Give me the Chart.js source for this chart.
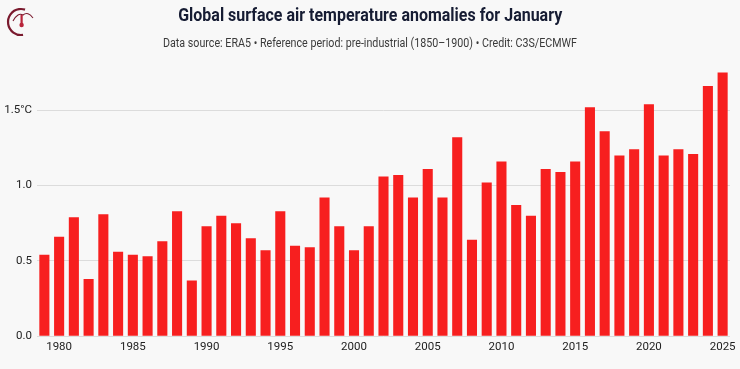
<!DOCTYPE html>
<html>
<head>
<meta charset="utf-8">
<script src="https://cdn.jsdelivr.net/npm/chart.js@4"></script>
<style>
  html, body { margin: 0; padding: 0; background: #f8f8f8; }
  #wrap { position: relative; width: 740px; height: 369px; overflow: hidden; }
  #c { position: absolute; left: 0; top: 0; }
  .hdr { position: absolute; left: 0; width: 740px; text-align: center; white-space: nowrap; }
  .hdr span { display: inline-block; transform-origin: 50% 50%; }
  #title { top: 3px; font-family: Roboto, sans-serif; font-weight: 700; font-size: 17.5px; line-height: 24px; color: #161c33; }
  #subtitle { top: 34px; font-family: Roboto, sans-serif; font-weight: 400; font-size: 12.5px; line-height: 18px; color: #3a3a3a; }
</style>
</head>
<body>
<div id="wrap">
  <canvas id="c" width="740" height="369"></canvas>
  <div class="hdr" id="title"><span id="titleSpan"></span></div>
  <div class="hdr" id="subtitle"><span id="subSpan"></span></div>
</div>
<script>
const years = [1979,1980,1981,1982,1983,1984,1985,1986,1987,1988,1989,1990,1991,1992,1993,1994,1995,1996,1997,1998,1999,2000,2001,2002,2003,2004,2005,2006,2007,2008,2009,2010,2011,2012,2013,2014,2015,2016,2017,2018,2019,2020,2021,2022,2023,2024,2025];
const anomalies = [0.54,0.66,0.79,0.38,0.81,0.56,0.54,0.53,0.63,0.83,0.37,0.73,0.80,0.75,0.65,0.57,0.83,0.60,0.59,0.92,0.73,0.57,0.73,1.06,1.07,0.92,1.11,0.92,1.32,0.64,1.02,1.16,0.87,0.80,1.11,1.09,1.16,1.52,1.36,1.20,1.24,1.54,1.20,1.24,1.21,1.66,1.75];
const yTickValues = [0, 0.5, 1.0, 1.5];
const yTickLabels = ['0.0', '0.5', '1.0', '1.5°C'];
const titleText = 'Global surface air temperature anomalies for January';
const subtitleText = 'Data source: ERA5 • Reference period: pre-industrial (1850–1900) • Credit: C3S/ECMWF';

// header text, horizontally condensed to match the narrow typeface of the original
function setCondensed(id, text, targetWidth) {
  const el = document.getElementById(id);
  el.textContent = text;
  const w = el.getBoundingClientRect().width;
  if (w > 0) el.style.transform = 'scaleX(' + (targetWidth / w) + ')';
}
setCondensed('titleSpan', titleText, 384);
setCondensed('subSpan', subtitleText, 414);

const bgPlugin = {
  id: 'bg',
  beforeDraw(chart) {
    const ctx = chart.ctx;
    ctx.save();
    ctx.fillStyle = '#f8f8f8';
    ctx.fillRect(0, 0, chart.width, chart.height);
    ctx.restore();
  },
  afterDraw(chart) {
    // small logo in top-left corner
    const ctx = chart.ctx;
    ctx.save();
    ctx.strokeStyle = '#7a1a2e';
    ctx.lineWidth = 2.2;
    ctx.beginPath();
    ctx.arc(21, 22, 13, Math.PI * 0.45, Math.PI * 1.6);
    ctx.stroke();
    ctx.lineWidth = 1.1;
    ctx.beginPath();
    ctx.moveTo(13, 21);
    ctx.quadraticCurveTo(18, 12, 23, 15);
    ctx.quadraticCurveTo(28, 11, 33, 18);
    ctx.stroke();
    ctx.fillStyle = '#b8243a';
    ctx.fillRect(20.5, 15, 2.2, 9);
    ctx.beginPath();
    ctx.arc(21.6, 25, 2.2, 0, Math.PI * 2);
    ctx.fill();
    ctx.restore();
  }
};

const tickFont = { family: "Roboto, sans-serif", size: 11.5 };

new Chart(document.getElementById('c'), {
  type: 'bar',
  data: {
    labels: years,
    datasets: [{
      data: anomalies,
      backgroundColor: '#f71f1f',
      borderWidth: 0,
      barPercentage: 0.72,
      categoryPercentage: 0.95
    }]
  },
  plugins: [bgPlugin],
  options: {
    responsive: false,
    animation: false,
    layout: { padding: { top: 65, right: 10, bottom: 11, left: 0 } },
    plugins: {
      legend: { display: false },
      tooltip: { enabled: false },
      title: { display: false },
      subtitle: { display: false }
    },
    scales: {
      x: {
        grid: { display: false, drawTicks: false },
        border: { display: false },
        ticks: {
          autoSkip: false,
          maxRotation: 0,
          padding: 4,
          color: '#222',
          font: tickFont,
          callback: function(v, i) { const y = years[i]; return y % 5 === 0 ? String(y) : ''; }
        }
      },
      y: {
        min: 0,
        max: 1.8,
        afterBuildTicks(scale) { scale.ticks = yTickValues.map(v => ({ value: v })); },
        afterFit(scale) { scale.width = 37; },
        grid: { color: '#dcdcdc', drawTicks: false, lineWidth: 1 },
        border: { display: false },
        ticks: {
          padding: 5,
          color: '#222',
          font: tickFont,
          callback: function(v) { const i = yTickValues.indexOf(v); return i >= 0 ? yTickLabels[i] : ''; }
        }
      }
    }
  }
});
</script>
</body>
</html>
